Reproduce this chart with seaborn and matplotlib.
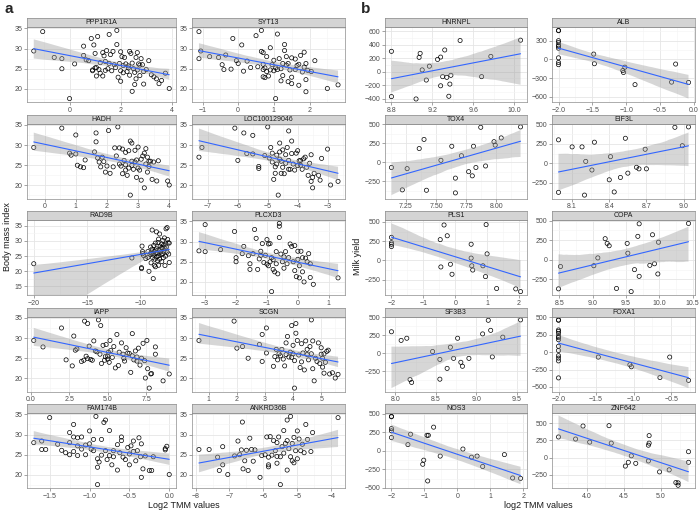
import numpy as np
import matplotlib.pyplot as plt
import seaborn as sns
from matplotlib.ticker import AutoMinorLocator

sns.set_style("white")
plt.rcParams["font.family"] = ["Liberation Sans", "DejaVu Sans"]

# ---- panel a: body mass index vs log2 TMM values ----
PPP1R1A = [(-1.4, 29.4), (-1.05, 34.2), (-0.6, 27.8), (-0.3, 27.5), (-0.3, 25.0), (0.0, 17.6), (0.2, 26.2),
           (0.55, 30.6), (0.55, 28.3), (0.65, 27.2), (0.75, 27.0), (0.85, 32.5), (0.9, 24.7), (0.95, 30.9),
           (1.0, 28.8), (1.0, 25.2), (1.05, 25.3), (1.05, 23.2), (1.1, 33.0), (1.15, 24.8), (1.2, 26.5),
           (1.3, 29.0), (1.3, 23.2), (1.35, 28.2), (1.4, 26.8), (1.4, 24.6), (1.45, 29.5), (1.5, 25.0),
           (1.55, 33.5), (1.55, 26.3), (1.6, 28.5), (1.65, 24.5), (1.7, 29.3), (1.75, 26.0), (1.8, 25.3),
           (1.85, 34.5), (1.85, 31.0), (1.9, 22.9), (1.95, 26.3), (2.0, 29.2), (2.0, 24.5), (2.0, 21.9),
           (2.05, 28.0), (2.1, 25.8), (2.1, 24.0), (2.15, 27.8), (2.2, 26.2), (2.25, 24.3), (2.3, 25.7),
           (2.35, 29.3), (2.35, 23.4), (2.4, 28.8), (2.45, 26.4), (2.45, 19.4), (2.5, 25.0), (2.55, 24.1),
           (2.6, 27.8), (2.6, 22.5), (2.65, 29.0), (2.65, 24.7), (2.7, 26.2), (2.75, 25.9), (2.8, 27.5),
           (2.85, 26.0), (2.9, 21.2), (2.9, 24.3), (3.0, 24.8), (3.1, 27.0), (3.2, 23.5), (3.3, 23.0),
           (3.4, 22.5), (3.5, 21.3), (3.6, 22.1), (3.75, 23.9), (3.9, 20.1), (2.55, 21.1), (1.2, 23.9),
           (2.3, 25.2), (2.75, 23.3), (0.9, 24.5)]
SYT13 = [(-1.1, 34.2), (-1.1, 27.5), (-1.05, 29.4), (-0.8, 28.0), (-0.55, 27.8), (-0.45, 26.0), (-0.4, 24.8),
         (-0.35, 28.4), (-0.2, 24.9), (-0.15, 32.5), (-0.05, 27.0), (0.0, 26.3), (0.1, 30.9), (0.15, 24.4),
         (0.25, 26.9), (0.35, 25.3), (0.5, 33.2), (0.65, 34.5), (0.65, 29.3), (0.7, 29.0), (0.7, 26.1),
         (0.7, 24.8), (0.7, 23.0), (0.75, 22.8), (0.75, 25.2), (0.8, 24.3), (0.8, 28.0), (0.85, 23.2),
         (0.9, 24.7), (0.9, 30.2), (0.95, 26.0), (1.0, 27.1), (1.0, 24.5), (1.05, 17.6), (1.05, 25.2),
         (1.1, 33.6), (1.1, 24.8), (1.15, 27.5), (1.2, 22.0), (1.25, 23.3), (1.25, 26.3), (1.3, 31.0),
         (1.3, 29.5), (1.35, 28.0), (1.35, 25.9), (1.4, 26.3), (1.45, 24.7), (1.5, 27.7), (1.5, 22.9),
         (1.5, 21.3), (1.6, 27.4), (1.6, 24.8), (1.65, 25.8), (1.7, 26.1), (1.7, 20.9), (1.75, 28.3),
         (1.8, 24.2), (1.85, 29.1), (1.85, 25.4), (1.9, 26.3), (1.9, 22.3), (1.9, 19.3), (1.95, 24.6),
         (2.05, 24.3), (2.15, 27.0), (2.5, 20.1), (2.8, 21.0), (1.2, 25.0), (0.55, 25.5), (1.4, 21.8)]
HADH = [(-0.35, 29.4), (0.55, 34.2), (0.8, 28.0), (0.85, 27.5), (1.0, 32.5), (1.0, 27.8), (1.05, 25.0),
        (1.15, 24.6), (1.25, 24.4), (1.3, 26.3), (1.6, 28.3), (1.65, 33.0), (1.65, 30.8), (1.7, 26.8),
        (1.75, 25.8), (1.8, 24.6), (1.85, 27.0), (1.9, 25.9), (1.95, 23.3), (2.0, 24.8), (2.05, 33.6),
        (2.1, 23.0), (2.25, 29.3), (2.3, 27.3), (2.35, 34.5), (2.4, 29.3), (2.4, 25.3), (2.45, 24.8),
        (2.5, 22.9), (2.5, 29.0), (2.55, 26.2), (2.6, 28.2), (2.6, 25.1), (2.65, 22.5), (2.7, 24.3),
        (2.7, 28.6), (2.75, 31.0), (2.75, 17.6), (2.8, 30.5), (2.8, 26.0), (2.8, 25.0), (2.85, 24.0),
        (2.9, 25.8), (2.9, 28.7), (2.95, 26.3), (3.0, 29.5), (3.0, 24.3), (3.05, 23.8), (3.1, 26.5),
        (3.1, 21.3), (3.15, 27.3), (3.2, 28.0), (3.2, 19.4), (3.25, 29.1), (3.25, 25.3), (3.3, 27.0),
        (3.3, 23.3), (3.35, 24.7), (3.4, 26.0), (3.45, 21.5), (3.5, 25.8), (3.6, 21.1), (3.65, 26.1),
        (3.95, 21.1), (4.0, 20.1), (2.2, 24.6), (2.95, 22.0), (3.35, 26.0), (2.6, 23.8)]
LOC100129046 = [(-7.3, 27.0), (-7.2, 29.4), (-6.1, 34.2), (-6.0, 26.2), (-5.8, 33.0), (-5.7, 27.9), (-5.5, 32.4),
                (-5.5, 27.8), (-5.3, 24.7), (-5.3, 24.2), (-5.1, 27.4), (-5.0, 34.5), (-4.95, 26.8), (-4.9, 29.4),
                (-4.85, 25.8), (-4.8, 21.5), (-4.75, 24.6), (-4.7, 27.5), (-4.7, 25.3), (-4.65, 17.6), (-4.6, 30.5),
                (-4.6, 28.3), (-4.55, 23.0), (-4.55, 26.0), (-4.5, 28.8), (-4.5, 24.5), (-4.45, 22.9), (-4.4, 27.6),
                (-4.4, 25.5), (-4.35, 29.4), (-4.3, 33.5), (-4.3, 26.2), (-4.25, 24.0), (-4.2, 31.0), (-4.2, 27.9),
                (-4.15, 25.3), (-4.1, 23.8), (-4.05, 28.0), (-4.0, 28.6), (-4.0, 24.9), (-3.95, 26.1), (-3.9, 25.0),
                (-3.85, 24.0), (-3.8, 26.6), (-3.75, 27.0), (-3.7, 24.5), (-3.65, 22.5), (-3.6, 25.5), (-3.55, 27.6),
                (-3.55, 21.0), (-3.5, 19.4), (-3.5, 22.0), (-3.45, 23.0), (-3.3, 22.5), (-3.25, 21.3), (-3.2, 26.7),
                (-3.0, 29.0), (-2.9, 20.1), (-2.65, 21.0), (-4.6, 26.5), (-4.3, 24.0), (-3.9, 26.2), (-4.75, 23.0),
                (-4.85, 28.0)]
RAD9B = [(-20.0, 22.5), (-10.8, 24.4), (-9.9, 21.2), (-9.9, 20.9), (-9.85, 28.3), (-9.8, 26.5), (-9.8, 25.8),
         (-9.7, 25.2), (-9.3, 26.5), (-9.3, 24.6), (-9.2, 20.0), (-9.1, 25.6), (-9.05, 28.0), (-9.0, 26.0),
         (-9.0, 22.8), (-8.9, 33.6), (-8.9, 27.3), (-8.85, 24.5), (-8.8, 17.6), (-8.8, 25.4), (-8.75, 28.5),
         (-8.7, 26.6), (-8.7, 22.0), (-8.65, 24.0), (-8.6, 29.3), (-8.6, 21.5), (-8.55, 25.9), (-8.5, 33.0),
         (-8.5, 27.4), (-8.45, 24.8), (-8.4, 26.0), (-8.4, 23.5), (-8.35, 29.5), (-8.3, 30.6), (-8.3, 25.2),
         (-8.25, 27.0), (-8.2, 32.3), (-8.2, 24.0), (-8.15, 28.3), (-8.1, 26.4), (-8.05, 25.5), (-8.0, 29.0),
         (-8.0, 23.2), (-7.95, 27.6), (-7.9, 30.2), (-7.9, 25.8), (-7.85, 24.5), (-7.8, 28.6), (-7.8, 26.7),
         (-7.75, 31.0), (-7.7, 27.5), (-7.65, 25.0), (-7.6, 34.0), (-7.6, 29.0), (-7.55, 28.0), (-7.5, 34.4),
         (-7.5, 26.3), (-7.45, 30.5), (-7.4, 29.4), (-7.35, 25.7), (-7.3, 22.9), (-7.3, 29.3), (-8.9, 25.9),
         (-8.3, 22.0), (-7.7, 21.9), (-9.5, 24.2), (-8.6, 27.0), (-8.0, 27.8)]
PLCXD3 = [(-3.2, 27.7), (-3.0, 34.2), (-3.0, 27.5), (-2.5, 28.0), (-2.05, 32.5), (-2.0, 25.0), (-2.0, 26.0),
          (-1.8, 27.0), (-1.75, 28.8), (-1.6, 26.5), (-1.55, 24.5), (-1.55, 23.1), (-1.45, 27.0), (-1.4, 33.0),
          (-1.35, 30.8), (-1.3, 23.1), (-1.25, 25.7), (-1.2, 26.6), (-1.15, 29.5), (-1.1, 24.8), (-1.05, 26.6),
          (-1.0, 30.5), (-1.0, 24.4), (-0.95, 29.4), (-0.9, 29.5), (-0.9, 25.0), (-0.85, 26.0), (-0.85, 17.6),
          (-0.8, 23.1), (-0.8, 25.5), (-0.75, 22.5), (-0.7, 27.5), (-0.7, 24.5), (-0.65, 22.0), (-0.6, 34.5),
          (-0.6, 33.8), (-0.6, 31.0), (-0.55, 26.9), (-0.5, 25.0), (-0.45, 26.2), (-0.4, 27.5), (-0.35, 24.5),
          (-0.3, 26.0), (-0.25, 29.4), (-0.2, 28.8), (-0.15, 25.0), (-0.1, 22.8), (-0.1, 29.0), (-0.05, 21.3),
          (0.0, 27.6), (0.0, 25.6), (0.05, 24.0), (0.05, 21.0), (0.1, 27.6), (0.15, 26.0), (0.15, 22.5),
          (0.2, 20.0), (0.3, 25.0), (0.35, 27.0), (0.4, 24.5), (0.4, 21.1), (0.5, 19.4), (1.3, 21.0),
          (-0.95, 24.0), (-1.2, 27.6), (-0.45, 23.4), (0.25, 25.9)]
IAPP = [(0.2, 29.4), (0.8, 27.8), (2.0, 32.5), (2.3, 24.6), (2.7, 23.1), (2.8, 30.5), (2.9, 27.0), (3.0, 27.3),
        (3.3, 24.2), (3.45, 24.5), (3.5, 34.2), (3.6, 25.5), (3.7, 33.6), (3.7, 24.9), (3.8, 28.0), (3.9, 24.7),
        (4.0, 24.5), (4.1, 29.3), (4.2, 26.8), (4.4, 34.5), (4.5, 26.0), (4.55, 33.1), (4.6, 23.7), (4.7, 28.2),
        (4.8, 24.5), (4.85, 25.4), (4.9, 28.4), (5.0, 24.8), (5.05, 26.5), (5.1, 24.0), (5.15, 29.4), (5.2, 26.9),
        (5.3, 25.2), (5.4, 27.9), (5.5, 22.6), (5.6, 30.9), (5.7, 23.2), (5.75, 26.5), (5.9, 28.8), (6.0, 26.0),
        (6.05, 25.0), (6.1, 24.3), (6.2, 27.6), (6.3, 26.3), (6.4, 26.2), (6.5, 21.5), (6.6, 31.1), (6.7, 24.6),
        (6.8, 26.8), (6.9, 24.3), (7.0, 27.5), (7.1, 23.3), (7.2, 25.0), (7.3, 28.7), (7.4, 24.4), (7.45, 20.1),
        (7.55, 29.4), (7.6, 22.4), (7.7, 17.6), (7.8, 21.1), (7.85, 21.2), (8.1, 27.8), (8.1, 26.0), (8.6, 19.4),
        (9.0, 21.1), (6.6, 25.6), (5.0, 25.5), (4.3, 26.6), (6.9, 25.3)]
SCGN = [(0.65, 29.4), (1.9, 34.2), (2.0, 27.5), (2.2, 27.9), (2.4, 25.0), (2.8, 28.4), (2.9, 30.9), (2.9, 24.2),
        (3.05, 32.5), (3.05, 26.3), (3.3, 23.0), (3.35, 25.4), (3.4, 27.2), (3.45, 24.6), (3.5, 26.1), (3.55, 25.6),
        (3.6, 27.2), (3.65, 24.8), (3.7, 23.1), (3.75, 28.8), (3.75, 25.9), (3.8, 30.4), (3.85, 25.3), (3.9, 26.5),
        (3.95, 33.1), (4.0, 28.2), (4.0, 26.1), (4.05, 17.6), (4.05, 24.4), (4.1, 33.6), (4.1, 31.2), (4.15, 29.4),
        (4.2, 25.8), (4.25, 22.7), (4.3, 28.6), (4.3, 24.1), (4.35, 26.3), (4.4, 22.1), (4.45, 29.3), (4.5, 25.9),
        (4.55, 24.6), (4.6, 27.9), (4.65, 26.1), (4.65, 34.5), (4.7, 29.3), (4.7, 22.4), (4.75, 19.4), (4.8, 25.0),
        (4.85, 24.2), (4.9, 28.8), (4.95, 23.7), (5.0, 26.0), (5.0, 27.6), (5.05, 22.8), (5.05, 25.0), (5.1, 26.1),
        (5.15, 24.0), (5.2, 26.7), (5.25, 27.0), (5.3, 21.1), (5.4, 21.4), (5.5, 20.1), (5.6, 21.0), (4.5, 27.2),
        (3.95, 25.2), (5.1, 21.3)]
FAM174B = [(-1.7, 28.0), (-1.6, 28.4), (-1.6, 26.3), (-1.55, 26.3), (-1.5, 34.2), (-1.4, 27.6), (-1.35, 26.1),
           (-1.3, 25.5), (-1.25, 30.5), (-1.25, 28.0), (-1.25, 25.0), (-1.2, 32.5), (-1.2, 29.4), (-1.2, 25.8),
           (-1.15, 29.2), (-1.15, 27.2), (-1.15, 24.8), (-1.1, 29.4), (-1.1, 26.4), (-1.05, 27.4), (-1.05, 25.0),
           (-1.0, 30.9), (-1.0, 27.7), (-0.98, 26.4), (-0.95, 26.0), (-0.95, 28.8), (-0.92, 34.5), (-0.9, 24.0),
           (-0.9, 21.9), (-0.9, 17.6), (-0.88, 23.2), (-0.85, 28.8), (-0.85, 24.9), (-0.82, 33.0), (-0.8, 33.6),
           (-0.8, 26.0), (-0.78, 23.8), (-0.75, 31.0), (-0.75, 24.8), (-0.72, 22.5), (-0.7, 26.0), (-0.7, 24.5),
           (-0.65, 27.5), (-0.65, 21.2), (-0.6, 29.4), (-0.6, 28.5), (-0.58, 24.4), (-0.55, 23.8), (-0.52, 26.8),
           (-0.5, 22.5), (-0.5, 25.2), (-0.48, 27.2), (-0.45, 28.4), (-0.45, 25.8), (-0.42, 23.5), (-0.4, 26.0),
           (-0.38, 29.2), (-0.36, 24.5), (-0.35, 19.4), (-0.35, 27.7), (-0.33, 21.5), (-0.3, 24.7), (-0.25, 21.1),
           (-0.22, 21.1), (-0.2, 24.5), (-0.05, 26.2), (-0.05, 26.5), (-0.03, 27.1), (0.0, 20.1), (-0.62, 25.5)]
ANKRD36B = [(-7.9, 26.3), (-7.6, 26.3), (-7.35, 24.4), (-7.3, 21.1), (-7.2, 22.5), (-7.2, 27.0), (-7.05, 20.1),
            (-6.85, 24.7), (-6.75, 28.4), (-6.7, 25.0), (-6.65, 26.2), (-6.62, 33.1), (-6.6, 21.5), (-6.55, 23.5),
            (-6.5, 26.1), (-6.45, 21.1), (-6.4, 29.1), (-6.3, 23.4), (-6.25, 26.2), (-6.1, 19.4), (-6.05, 24.8),
            (-5.95, 25.0), (-5.9, 29.4), (-5.85, 22.0), (-5.85, 22.5), (-5.8, 29.5), (-5.75, 24.9), (-5.7, 28.5),
            (-5.65, 26.0), (-5.6, 28.0), (-5.6, 24.6), (-5.55, 29.4), (-5.5, 17.6), (-5.5, 24.5), (-5.45, 27.0),
            (-5.4, 31.0), (-5.4, 25.4), (-5.35, 27.8), (-5.3, 33.6), (-5.3, 28.5), (-5.3, 21.2), (-5.25, 26.5),
            (-5.2, 34.5), (-5.2, 24.5), (-5.15, 27.8), (-5.1, 29.3), (-5.1, 23.0), (-5.05, 26.0), (-5.0, 30.9),
            (-5.0, 24.0), (-4.95, 28.9), (-4.9, 26.0), (-4.85, 27.6), (-4.8, 25.5), (-4.75, 32.5), (-4.7, 28.8),
            (-4.6, 25.8), (-4.55, 30.5), (-3.8, 34.2), (-5.6, 22.9), (-6.35, 26.3), (-5.15, 23.5), (-5.85, 24.4)]

# ---- panel b: milk yield vs log2 TMM values ----
HNRNPL = [(8.8, 300), (8.8, -370), (9.07, 210), (9.08, 270), (9.1, 25), (9.04, -405), (9.14, -125), (9.17, 80),
          (9.25, 180), (9.28, 215), (9.28, -210), (9.32, 320), (9.3, -75), (9.34, -85), (9.37, -185), (9.36, -365),
          (9.38, -55), (9.47, 460), (9.68, -75), (9.77, 225), (10.06, 465)]
ALB = [(-2.0, 465), (-2.0, 460), (-2.0, 300), (-2.0, 270), (-2.0, 225), (-2.0, 210), (-2.0, 180), (-2.0, 25),
       (-2.0, -50), (-2.0, -85), (-1.48, 85), (-1.47, -70), (-1.05, -180), (-1.04, -210), (-1.02, -125),
       (-0.87, -405), (-0.33, -365), (-0.27, -75), (-0.08, -370)]
TOX4 = [(7.13, -70), (7.22, -365), (7.26, -85), (7.36, 180), (7.4, 300), (7.42, -370), (7.54, 25), (7.63, 210),
        (7.66, -210), (7.66, -405), (7.71, 85), (7.77, -125), (7.8, -180), (7.81, 210), (7.83, -70), (7.87, 460),
        (7.91, -50), (7.98, 270), (7.99, 225), (8.04, 320), (8.2, 465)]
EIF3L = [(7.99, 300), (7.99, -370), (8.1, 210), (8.18, 210), (8.2, -405), (8.21, 25), (8.26, -85), (8.28, 270),
         (8.41, 85), (8.4, -210), (8.44, -365), (8.49, -180), (8.53, 320), (8.55, -125), (8.62, -50), (8.64, -70),
         (8.69, 180), (8.7, -70), (8.93, 460), (8.99, 225), (9.04, 465)]
PLS1 = [(-2.0, 300), (-2.0, 230), (-2.0, 210), (-2.0, 180), (-0.47, 270), (-0.45, -85), (-0.35, 460), (-0.25, 320),
        (-0.15, -50), (-0.1, -180), (0.5, 210), (0.5, 30), (0.52, -70), (0.55, -125), (0.87, -70), (0.95, -210),
        (0.97, 465), (1.0, 85), (1.3, -365), (1.9, -370), (2.05, -405)]
COPA = [(8.49, -370), (8.52, -85), (9.02, -75), (9.08, 25), (9.19, 270), (9.22, 210), (9.25, 180), (9.36, -365),
        (9.52, 210), (9.53, 85), (9.58, -405), (9.63, -125), (9.68, 300), (9.7, 460), (9.7, -210), (9.86, -70),
        (9.9, 320), (9.93, -50), (9.98, -180), (9.99, 225), (10.44, 465)]
SF3B3 = [(7.95, 300), (8.07, 180), (8.14, 210), (8.18, -365), (8.2, -405), (8.46, 25), (8.55, -85), (8.55, -360),
         (8.64, -210), (8.68, 85), (8.72, -70), (8.77, 210), (8.81, -125), (8.83, -180), (8.91, -70), (9.08, 270),
         (9.15, 460), (9.18, 320), (9.2, -50), (9.33, 225), (9.55, 465)]
FOXA1 = [(-2.0, 465), (-2.0, 460), (-2.0, 320), (-2.0, 300), (-2.0, 270), (-2.0, 225), (-2.0, 210), (-2.0, 180),
         (-2.0, 85), (-2.0, 25), (-2.0, -50), (-2.0, -85), (-2.0, -125), (-2.0, -370), (-1.47, -70), (-1.05, -180),
         (-1.03, -210), (-0.52, -70), (-0.65, -365), (-0.27, -405)]
NOS3 = [(-2.0, 465), (-2.0, 460), (-2.0, 300), (-2.0, 270), (-2.0, 180), (-1.42, 225), (-1.5, 85), (-1.05, -180),
        (-1.02, -125), (-0.92, 210), (-0.88, 210), (-0.9, -405), (-0.72, 320), (-0.52, -70), (0.17, 25),
        (0.43, -85), (0.6, -70), (0.77, -210), (1.43, -50), (1.68, -365), (1.92, -370)]
ZNF642 = [(3.62, 300), (3.85, 270), (3.95, 460), (4.04, 225), (4.3, 465), (4.33, 210), (4.52, -125), (4.56, -70),
          (4.6, 25), (4.66, -85), (4.83, 180), (4.84, 210), (4.84, 320), (4.83, -50), (4.98, -210), (5.11, -180),
          (5.2, -365), (5.23, -370), (5.23, -405), (5.37, 85), (5.37, -70)]

genes_a = ["PPP1R1A", "SYT13", "HADH", "LOC100129046", "RAD9B", "PLCXD3", "IAPP", "SCGN", "FAM174B", "ANKRD36B"]
data_a = [PPP1R1A, SYT13, HADH, LOC100129046, RAD9B, PLCXD3, IAPP, SCGN, FAM174B, ANKRD36B]
xticks_a = [["0", "2", "4"], ["-1", "0", "1", "2"], ["0", "1", "2", "3", "4"], ["-7", "-6", "-5", "-4", "-3"],
            ["-20", "-15", "-10"], ["-3", "-2", "-1", "0", "1"], ["0.0", "2.5", "5.0", "7.5"], ["1", "2", "3", "4", "5"],
            ["-1.5", "-1.0", "-0.5", "0.0"], ["-8", "-7", "-6", "-5", "-4"]]
yticks_a = [["20", "25", "30", "35"]] * 4 + [["15", "20", "25", "30", "35"]] + [["20", "25", "30", "35"]] * 5
ylims_a = [None, None, None, None, (12.2, 36.9), None, None, None, None, None]

genes_b = ["HNRNPL", "ALB", "TOX4", "EIF3L", "PLS1", "COPA", "SF3B3", "FOXA1", "NOS3", "ZNF642"]
data_b = [HNRNPL, ALB, TOX4, EIF3L, PLS1, COPA, SF3B3, FOXA1, NOS3, ZNF642]
xticks_b = [["8.8", "9.2", "9.6", "10.0"], ["-2.0", "-1.5", "-1.0", "-0.5", "0.0"], ["7.25", "7.50", "7.75", "8.00"],
            ["8.1", "8.4", "8.7", "9.0"], ["-2", "-1", "0", "1", "2"], ["8.5", "9.0", "9.5", "10.0", "10.5"],
            ["8.0", "8.5", "9.0", "9.5"], ["-2.0", "-1.5", "-1.0", "-0.5"], ["-2", "-1", "0", "1", "2"],
            ["4.0", "4.5", "5.0"]]
yticks_b = [["-400", "-200", "0", "200", "400", "600"], ["-600", "-300", "0", "300"], ["-250", "0", "250", "500"],
            ["-250", "0", "250", "500"], ["-250", "0", "250", "500"], ["-250", "0", "250", "500"],
            ["-250", "0", "250", "500"], ["-500", "-250", "0", "250", "500"], ["-500", "-250", "0", "250", "500"],
            ["-250", "0", "250", "500"]]
ylims_b = [(-450, 660), None, None, None, None, None, None, None, None, (-445, 650)]

W, H = 700, 512
fig = plt.figure(figsize=(7, 5.12), dpi=100)


def lab(s):
    return s.replace("-", "\u2212")


def facet(x0, x1, top, name, pts, xt, yt, ylim):
    strip_h, panel_h = 9, 75
    ax = fig.add_axes([x0 / W, 1 - (top + strip_h + panel_h) / H, (x1 - x0) / W, panel_h / H])
    st = fig.add_axes([x0 / W, 1 - (top + strip_h) / H, (x1 - x0) / W, strip_h / H])
    arr = np.array(pts, dtype=float)
    xs, ys = arr[:, 0], arr[:, 1]
    sns.regplot(x=xs, y=ys, ax=ax, scatter=False, color="#3366FF", line_kws={"lw": 0.8}, n_boot=1000, seed=3)
    for c in ax.collections:
        c.set_facecolor("#999999")
        c.set_alpha(0.4)
        c.set_edgecolor("none")
    ax.scatter(xs, ys, s=9, facecolors="none", edgecolors="black", linewidths=0.5, zorder=0.9)
    ax.set_xticks([float(t) for t in xt], [lab(t) for t in xt])
    ax.set_yticks([float(t) for t in yt], [lab(t) for t in yt])
    if ylim is not None:
        ax.set_ylim(*ylim)
    ax.xaxis.set_minor_locator(AutoMinorLocator(2))
    ax.yaxis.set_minor_locator(AutoMinorLocator(2))
    ax.set_axisbelow(True)
    ax.grid(True, which="major", color="#E5E5E5", lw=0.6)
    ax.grid(True, which="minor", color="#F4F4F4", lw=0.4)
    ax.tick_params(which="major", length=2, width=0.5, color="#7F7F7F", labelsize=5, labelcolor="#4D4D4D",
                   pad=1.5, bottom=True, left=True)
    ax.tick_params(which="minor", length=0)
    for sp in ax.spines.values():
        sp.set_color("#8C8C8C")
        sp.set_linewidth(0.5)
    st.set_facecolor("#D4D4D4")
    st.set_xticks([])
    st.set_yticks([])
    for sp in st.spines.values():
        sp.set_color("#8C8C8C")
        sp.set_linewidth(0.5)
    st.text(0.5, 0.45, name, ha="center", va="center", fontsize=5, color="#1A1A1A", transform=st.transAxes)


cols_a = [(27, 176), (192, 345)]
cols_b = [(385, 527), (552, 695)]
for i in range(10):
    r, c = divmod(i, 2)
    top = 18 + r * 96.5
    facet(cols_a[c][0], cols_a[c][1], top, genes_a[i], data_a[i], xticks_a[i], yticks_a[i], ylims_a[i])
    facet(cols_b[c][0], cols_b[c][1], top, genes_b[i], data_b[i], xticks_b[i], yticks_b[i], ylims_b[i])

fig.text(8 / W, 1 - 237 / H, "Body mass index", rotation=90, ha="center", va="center", fontsize=6.5, color="#1A1A1A")
fig.text(358 / W, 1 - 256 / H, "Milk yield", rotation=90, ha="center", va="center", fontsize=6.5, color="#1A1A1A")
fig.text(184 / W, 1 - 506 / H, "Log2 TMM values", ha="center", va="center", fontsize=6.5, color="#1A1A1A")
fig.text(538 / W, 1 - 506 / H, "log2 TMM values", ha="center", va="center", fontsize=6.5, color="#1A1A1A")
fig.text(9 / W, 1 - 9 / H, "a", ha="center", va="center", fontsize=11, fontweight="bold")
fig.text(366 / W, 1 - 9 / H, "b", ha="center", va="center", fontsize=11, fontweight="bold")

fig.savefig("out.png", dpi=100)
